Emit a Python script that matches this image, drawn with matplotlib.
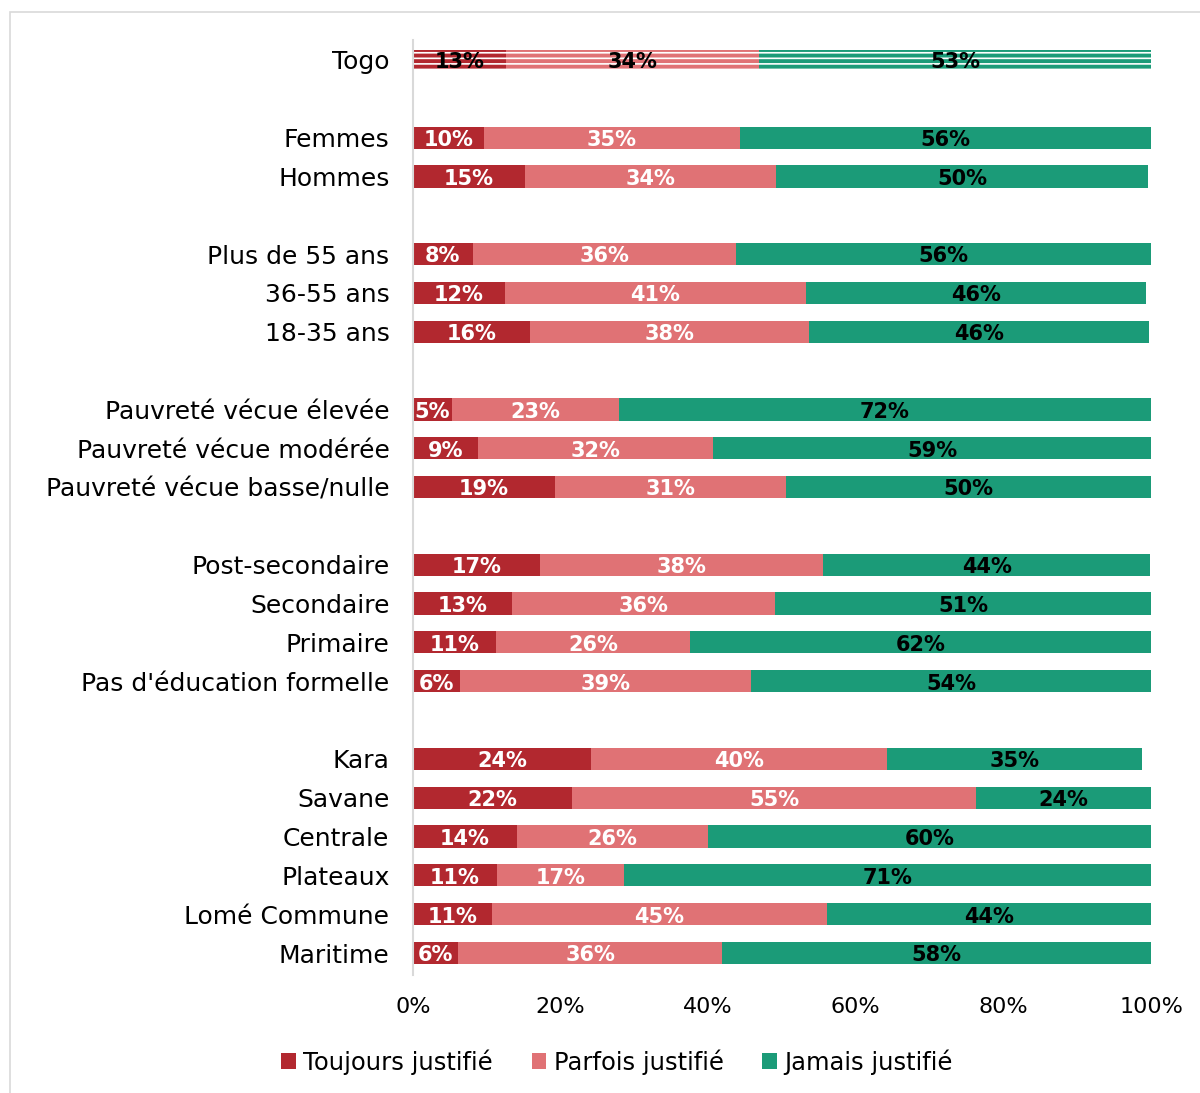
import matplotlib
matplotlib.use("Agg")
import matplotlib.pyplot as plt
from matplotlib.patches import Rectangle, Patch

categories = ["Togo", "", "Femmes", "Hommes", "", "Plus de 55 ans", "36-55 ans", "18-35 ans", "",
              "Pauvreté vécue élevée", "Pauvreté vécue modérée", "Pauvreté vécue basse/nulle", "",
              "Post-secondaire", "Secondaire", "Primaire", "Pas d'éducation formelle", "",
              "Kara", "Savane", "Centrale", "Plateaux", "Lomé Commune", "Maritime"]
toujours = [12.6, None, 9.6, 15.2, None, 8.1, 12.4, 15.8, None, 5.3, 8.8, 19.2, None,
            17.2, 13.4, 11.2, 6.4, None, 24.1, 21.6, 14.1, 11.4, 10.7, 6.1]
parfois = [34.3, None, 34.7, 34.0, None, 35.7, 40.9, 37.9, None, 22.6, 31.9, 31.3, None,
           38.4, 35.7, 26.4, 39.4, None, 40.1, 54.7, 25.9, 17.2, 45.4, 35.8]
jamais = [53.1, None, 55.7, 50.4, None, 56.2, 46.0, 46.0, None, 72.1, 59.3, 49.6, None,
          44.3, 50.9, 62.4, 54.2, None, 34.6, 23.7, 60.0, 71.4, 43.9, 58.1]
series_names = ["Toujours justifié", "Parfois justifié", "Jamais justifié"]
colors = ["#B2282F", "#E07275", "#1B9B78"]
xticks = [0, 20, 40, 60, 80, 100]

W, H = 1200, 1093
fig = plt.figure(figsize=(W / 100, H / 100), dpi=100)
plt.rcParams['hatch.linewidth'] = 1.2

# light border around the chart area
fig.patches.append(Rectangle((10 / W, -0.01), 1.2, 1 - 12 / H + 0.01, transform=fig.transFigure,
                             fill=False, edgecolor="#D9D9D9", linewidth=1.2))

ax_top, ax_bot = 40, 975
ax = fig.add_axes([413 / W, 1 - ax_bot / H, (1151 - 413) / W, (ax_bot - ax_top) / H])

slot = (953 - 60) / 23
n = len(categories)
font = "DejaVu Sans"

for i in range(n):
    if toujours[i] is None:
        continue
    vals = [toujours[i], parfois[i], jamais[i]]
    left = 0
    for k, v in enumerate(vals):
        if i == 0:
            ax.barh(i, v, left=left, height=0.54, color=colors[k], edgecolor="white",
                    linewidth=0, hatch="---")
            tc = "black"
        else:
            ax.barh(i, v, left=left, height=0.57, color=colors[k], linewidth=0)
            tc = "black" if k == 2 else "white"
        ax.text(left + v / 2, i + 0.06, f"{round(v)}%", ha="center", va="center",
                color=tc, fontsize=15, fontweight="bold", family=font)
        left += v

ax.set_ylim(23 + (ax_bot - 953) / slot, -(60 - ax_top) / slot)
ax.set_xlim(0, 100)
ax.set_yticks([i for i in range(n) if categories[i]])
ax.set_yticklabels([c for c in categories if c], fontsize=18, family=font)
ax.set_xticks(xticks)
ax.set_xticklabels([f"{t}%" for t in xticks], fontsize=16, family=font)
ax.tick_params(axis="y", length=0, pad=17)
ax.tick_params(axis="x", length=0, pad=16)
for s in ["top", "right", "bottom"]:
    ax.spines[s].set_visible(False)
ax.spines["left"].set_color("#D9D9D9")
ax.spines["left"].set_linewidth(1.5)

handles = [Patch(facecolor=c, edgecolor="none") for c in colors]
fig.legend(handles, series_names, loc="center", bbox_to_anchor=(617 / W, 1 - 1062 / H), ncol=3,
           frameon=False, prop={"family": font, "size": 17.5}, handlelength=0.6,
           handleheight=0.6, handletextpad=0.3, columnspacing=1.6)

fig.savefig("out.png", dpi=100)
